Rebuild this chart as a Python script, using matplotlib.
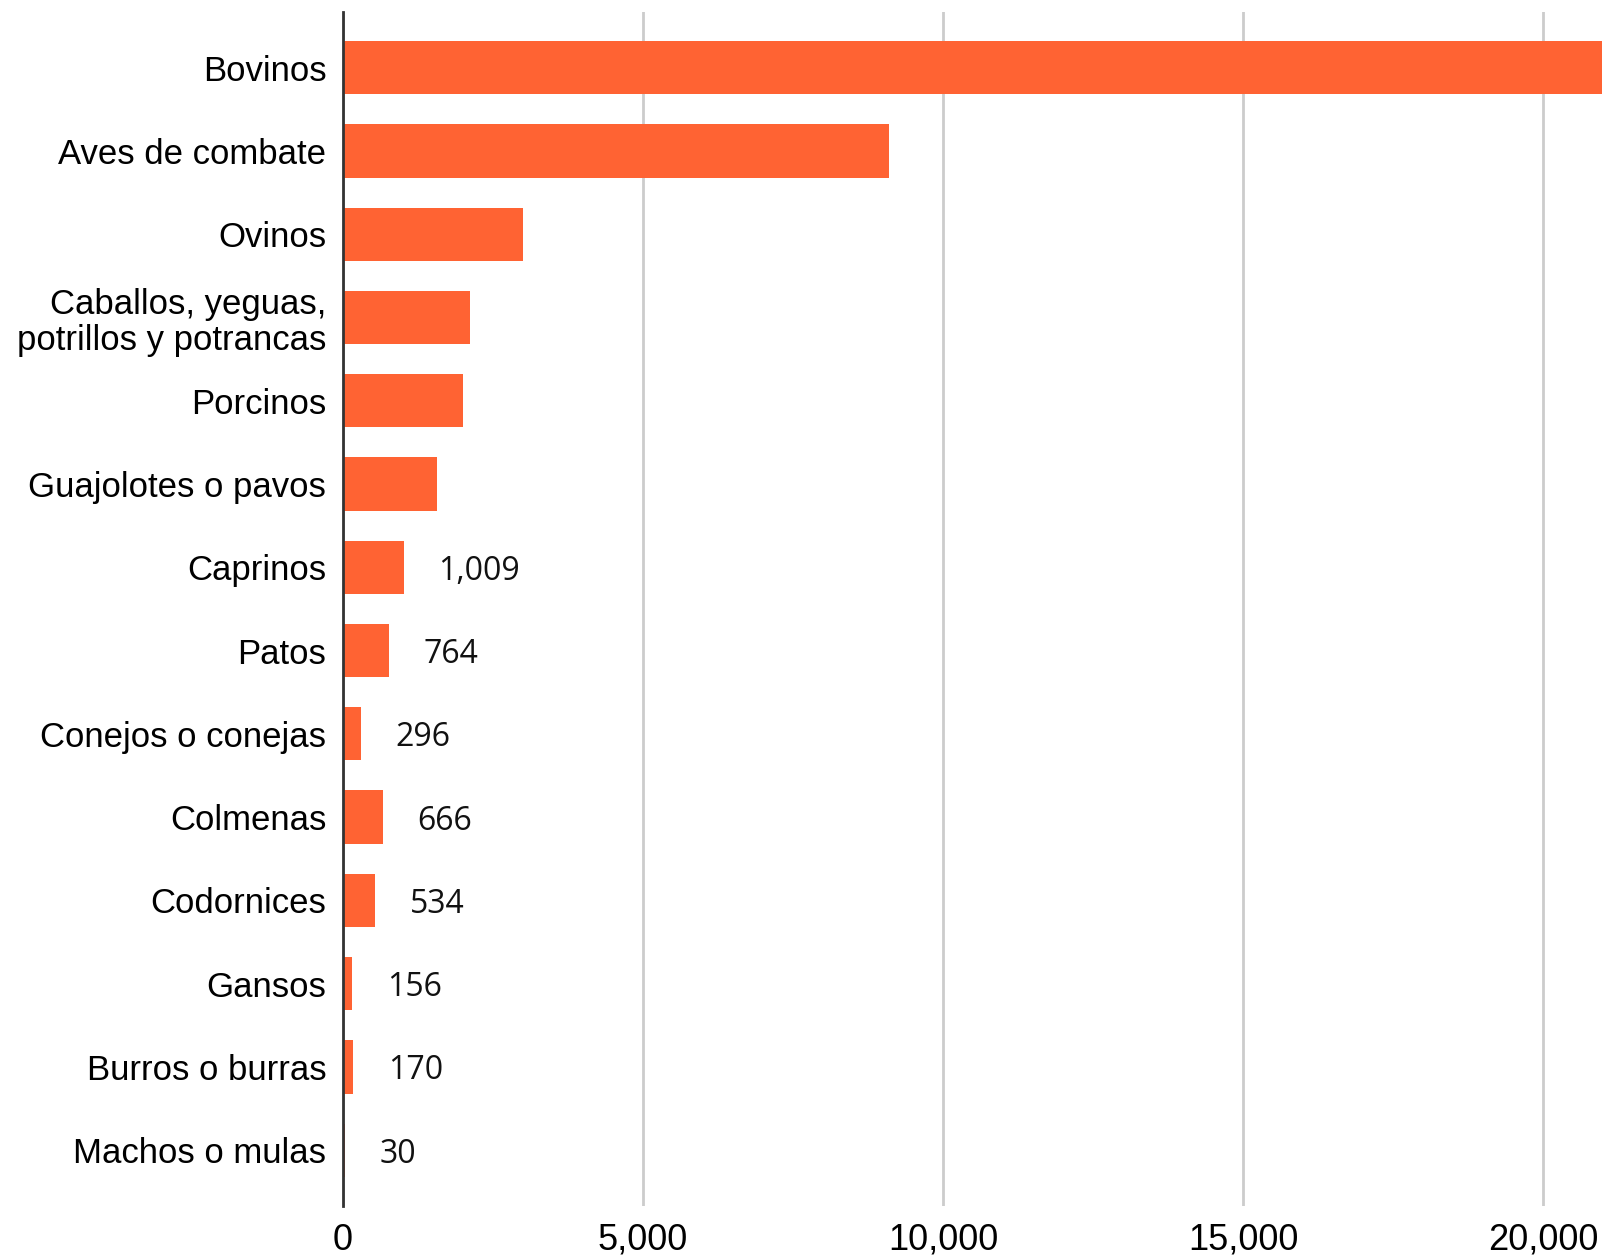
import matplotlib.pyplot as plt
from matplotlib.ticker import FuncFormatter

categories = ["Bovinos", "Aves de combate", "Ovinos", "Caballos, yeguas,\npotrillos y potrancas",
              "Porcinos", "Guajolotes o pavos", "Caprinos", "Patos", "Conejos o conejas",
              "Colmenas", "Codornices", "Gansos", "Burros o burras", "Machos o mulas"]
values = [22500, 9100, 3000, 2120, 2000, 1570, 1009, 764, 296, 666, 534, 156, 170, 30]
# only the small bars carry a value label in the original
show_label = [False] * 6 + [True] * 8
xticks = [0, 5000, 10000, 15000, 20000]

fig = plt.figure(figsize=(16.02, 12.6), dpi=100)
ax = fig.add_axes([0.2141, 0.0429, 0.7859, 0.9476])

y = list(range(len(categories)))
ax.barh(y, values, height=0.64, color="#FF6333", zorder=3)

ax.set_xlim(0, 20983)
ax.set_ylim(len(categories) - 1 + 0.67, -0.67)

for i, (v, s) in enumerate(zip(values, show_label)):
    if s:
        ax.annotate(f"{v:,}", (v, i), xytext=(25, 0), textcoords="offset points",
                    ha="left", va="center_baseline", fontsize=23, family="Open Sans",
                    color="#111111")

ax.set_yticks(y)
ax.set_yticklabels(categories, fontsize=25, family="Liberation Sans", linespacing=1.12)
ax.tick_params(axis="y", length=0, pad=12)

ax.set_xticks(xticks)
ax.xaxis.set_major_formatter(FuncFormatter(lambda v, p: f"{int(v):,}"))
for lab in ax.get_xticklabels():
    lab.set_family("Liberation Sans")
    lab.set_fontsize(26)
ax.tick_params(axis="x", length=0, pad=12)

ax.grid(axis="x", color="#cccccc", linewidth=2, zorder=0)
for side in ["top", "right", "bottom"]:
    ax.spines[side].set_visible(False)
ax.spines["left"].set_color("#333333")
ax.spines["left"].set_linewidth(2)
ax.spines["left"].set_zorder(4)

fig.savefig("out.png", dpi=100)
